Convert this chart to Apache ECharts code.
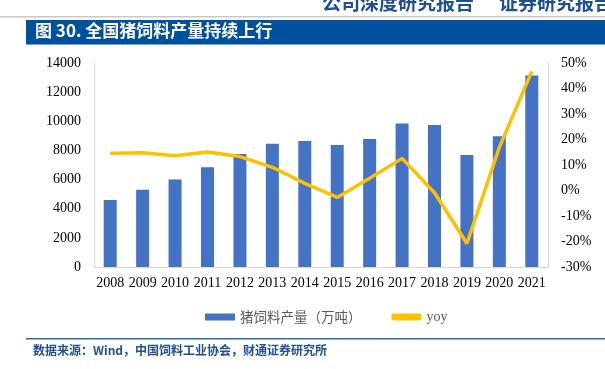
<!DOCTYPE html>
<html>
<head>
<meta charset="utf-8">
<script src="https://cdn.jsdelivr.net/npm/echarts@6/dist/echarts.min.js"></script>
<style>
  html, body { margin: 0; padding: 0; background: #fff; }
  #chart { width: 605px; height: 369px; }
</style>
</head>
<body>
<div id="chart"></div>
<script>
const years = ['2008', '2009', '2010', '2011', '2012', '2013', '2014', '2015', '2016', '2017', '2018', '2019', '2020', '2021'];
// 猪饲料产量（万吨）
const output = [4600, 5300, 6000, 6850, 7750, 8450, 8650, 8380, 8790, 9840, 9750, 7690, 8970, 13140];
// yoy (%)
const yoy = [14.6, 14.8, 13.6, 15.1, 13.3, 9.1, 2.8, -2.7, 4.8, 12.6, -0.9, -20.8, 16.9, 46.7];

const chart = echarts.init(document.getElementById('chart'));
const serif = 'Liberation Serif';
const cjk = 'Noto Sans CJK SC';

const option = {
  animation: false,
  color: ['#4472C4', '#FFC000'],
  graphic: [
    {
      type: 'text', left: 322, top: -7,
      style: { text: '公司深度研究报告', fill: '#1F4E96', font: 'bold 19px "Noto Sans CJK SC"' },
    },
    {
      type: 'text', left: 499, top: -7,
      style: { text: '证券研究报告', fill: '#1F4E96', font: 'bold 19px "Noto Sans CJK SC"' },
    },
    { type: 'rect', shape: { x: 0, y: 16, width: 605, height: 1.5 }, style: { fill: '#c8c8c8' } },
    { type: 'rect', shape: { x: 26, y: 20, width: 579, height: 24.5 }, style: { fill: '#0050A0' } },
    {
      type: 'text', left: 35, top: 22,
      style: { text: '图 30. 全国猪饲料产量持续上行', fill: '#fff', font: 'bold 17px "Noto Sans CJK SC"' },
    },
    { type: 'rect', shape: { x: 26, y: 338, width: 579, height: 1.5 }, style: { fill: '#2E6BB5' } },
    {
      type: 'text', left: 33, top: 344,
      style: { text: '数据来源：Wind，中国饲料工业协会，财通证券研究所', fill: '#1F4E96', font: 'bold 12px "Noto Sans CJK SC"' },
    },
  ],
  legend: {
    top: 305,
    left: 200,
    itemGap: 30,
    itemWidth: 30,
    itemHeight: 7,
    textStyle: { color: '#595959', fontSize: 13.5, fontFamily: cjk },
    data: [
      { name: '猪饲料产量（万吨）', icon: 'rect' },
      { name: 'yoy', icon: 'roundRect', textStyle: { fontFamily: serif, fontSize: 14 } },
    ],
  },
  grid: {
    left: 94,
    right: 57,
    top: 63,
    bottom: 102,
  },
  xAxis: {
    type: 'category',
    data: years,
    axisTick: { show: false },
    axisLine: { lineStyle: { color: '#d9d9d9', width: 1 } },
    axisLabel: { interval: 0, color: '#000', fontSize: 14, fontFamily: serif, margin: 9 },
  },
  yAxis: [
    {
      type: 'value',
      min: 0,
      max: 14000,
      interval: 2000,
      axisLine: { show: true, lineStyle: { color: '#d9d9d9' } },
      axisTick: { show: false },
      splitLine: { show: false },
      axisLabel: { color: '#000', fontSize: 14, fontFamily: serif, margin: 13, formatter: (v) => String(v) },
    },
    {
      type: 'value',
      min: -30,
      max: 50,
      interval: 10,
      axisLine: { show: true, lineStyle: { color: '#d9d9d9' } },
      axisTick: { show: false },
      splitLine: { show: false },
      axisLabel: { color: '#000', fontSize: 14, fontFamily: serif, margin: 13, formatter: '{value}%' },
    },
  ],
  series: [
    {
      name: '猪饲料产量（万吨）',
      type: 'bar',
      barWidth: 13,
      data: output,
    },
    {
      name: 'yoy',
      type: 'line',
      yAxisIndex: 1,
      symbol: 'none',
      lineStyle: { width: 3.5, color: '#FFC000' },
      data: yoy,
    },
  ],
};
chart.setOption(option);
</script>
</body>
</html>
